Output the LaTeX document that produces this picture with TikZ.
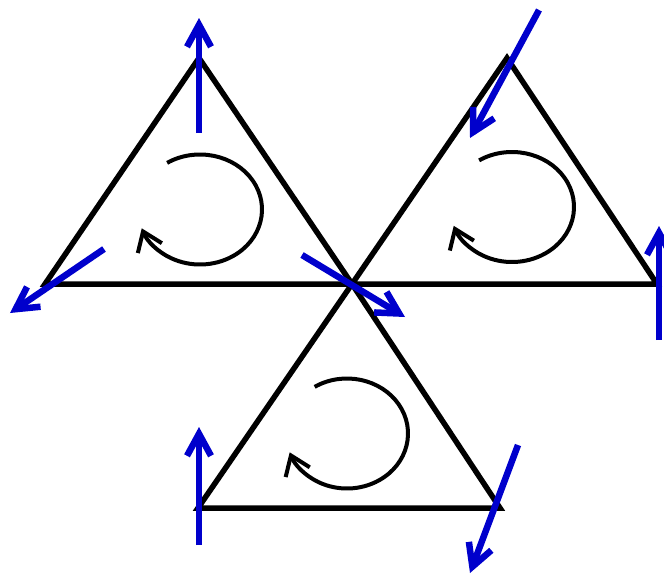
\documentclass[tikz,border=0pt]{standalone}
\usetikzlibrary{arrows.meta}
\definecolor{arrowblue}{RGB}{0,0,204}
\tikzset{
  tri/.style={draw=black, line width=5.5pt},
  spin/.style={draw=black, line width=4pt, -{Straight Barb[length=18pt,width=26pt]}},
  vec/.style={draw=arrowblue, line width=6.5pt, -{Straight Barb[length=22pt,width=24pt]}}
}
\begin{document}
\begin{tikzpicture}[x=1pt,y=-1pt]
\useasboundingbox (0,0) rectangle (664,574);
\clip (0,0) rectangle (664,574);
% vertices
\coordinate (LA) at (199,58);
\coordinate (LL) at (45,284);
\coordinate (M)  at (352,284);
\coordinate (RA) at (507,58);
\coordinate (RR) at (657,284);
\coordinate (BL) at (198,508);
\coordinate (BR) at (500,508);
% triangles
\draw[tri] (LA) -- (LL) -- (M) -- cycle;
\draw[tri] (RA) -- (M) -- (RR) -- cycle;
\draw[tri] (M) -- (BL) -- (BR) -- cycle;
% rotation arrows
\coordinate (cL) at (200,209.5);
\coordinate (cR) at (512,207);
\coordinate (cB) at (347,433.5);
\draw[spin] (cL) ++(122:62pt and 55pt) arc[start angle=122, end angle=-160, x radius=62pt, y radius=55pt];
\draw[spin] (cR) ++(122:62pt and 55pt) arc[start angle=122, end angle=-160, x radius=62pt, y radius=55pt];
\draw[spin] (cB) ++(122:61pt and 55pt) arc[start angle=122, end angle=-160, x radius=61pt, y radius=55pt];
% blue vectors
\coordinate (a1s) at (199,133); \coordinate (a1e) at (199,18);
\coordinate (a2s) at (104,249); \coordinate (a2e) at (10,313);
\coordinate (a3s) at (302,255); \coordinate (a3e) at (405,317);
\coordinate (a4s) at (539,10);  \coordinate (a4e) at (470,138);
\coordinate (a5s) at (659,340); \coordinate (a5e) at (659,226);
\coordinate (a6s) at (199,545); \coordinate (a6e) at (199,427);
\coordinate (a7s) at (518,445); \coordinate (a7e) at (470,573);
\draw[vec] (a1s) -- (a1e);
\draw[vec] (a2s) -- (a2e);
\draw[vec] (a3s) -- (a3e);
\draw[vec] (a4s) -- (a4e);
\draw[vec] (a5s) -- (a5e);
\draw[vec] (a6s) -- (a6e);
\draw[vec] (a7s) -- (a7e);
\end{tikzpicture}
\end{document}
